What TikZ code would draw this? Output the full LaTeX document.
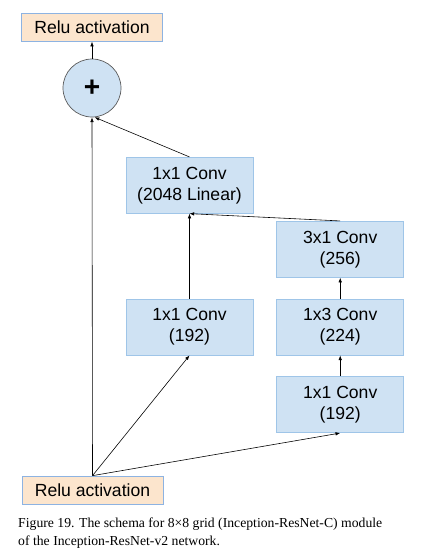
\documentclass[tikz,border=0pt]{standalone}
\usepackage{fontspec}
\setmainfont{Liberation Serif}
\setsansfont{Liberation Sans}
\usetikzlibrary{positioning, arrows.meta}
\definecolor{convblue}{HTML}{CFE2F3}
\definecolor{convedge}{HTML}{9FC5E8}
\definecolor{reluorange}{HTML}{FCE5CD}
\definecolor{reluedge}{HTML}{8DB3E2}
\definecolor{addedge}{HTML}{595959}

\begin{document}
\begin{tikzpicture}[
    x=0.03cm, y=-0.03cm,
    box/.style={draw=convedge, fill=convblue, rectangle, minimum width=3.81cm, minimum height=1.68cm, align=center, line width=0.6pt, font=\sffamily\fontsize{15}{18}\selectfont},
    relubox/.style={draw=reluedge, fill=reluorange, rectangle, minimum width=4.23cm, minimum height=0.84cm, line width=0.6pt, font=\sffamily\fontsize{15}{18}\selectfont},
    addnode/.style={draw=addedge, fill=convblue, circle, minimum size=1.74cm, line width=0.6pt, font=\sffamily\bfseries\fontsize{24}{24}\selectfont},
    arrow/.style={-{Latex[length=4pt,width=3pt]}, line width=0.5pt}
]
\useasboundingbox (0,0) rectangle (440,554);

\node[relubox] (reluin) at (92.5,490) {Relu activation};
\node[addnode] (add) at (92,88) {+};
\node[relubox] (reluout) [above=0.51cm of add] {Relu activation};

\node[box] (conv192a) at (189.5,327) {1x1 Conv\\(192)};
\node[box] (conv1x3) [right=0.69cm of conv192a] {1x3 Conv\\(224)};
\node[box] (conv192b) [below=0.63cm of conv1x3] {1x1 Conv\\(192)};
\node[box] (conv3x1) [above=0.63cm of conv1x3] {3x1 Conv\\(256)};
\node[box] (conv2048) [above=2.55cm of conv192a] {1x1 Conv\\(2048 Linear)};

\node[anchor=base west, inner sep=0, font=\fontsize{11.7}{15}\selectfont] (cap1) at (18,527) {Figure 19. The schema for 8×8 grid (Inception-ResNet-C) module};
\node[anchor=base west, inner sep=0, font=\fontsize{11.7}{15}\selectfont] (cap2) at (18,545) {of the Inception-ResNet-v2 network.};

\draw[arrow] (reluin.north) -- (add.south);
\draw[arrow] (reluin.north) -- (conv192a.south);
\draw[arrow] (reluin.north) -- (conv192b.south);
\draw[arrow] (conv192a) -- (conv2048);
\draw[arrow] (conv192b) -- (conv1x3);
\draw[arrow] (conv1x3) -- (conv3x1);
\draw[arrow] (conv3x1.north) -- (conv2048.south);
\draw[arrow] (conv2048.north) -- (add.-85);
\draw[arrow] (add) -- (reluout);

\end{tikzpicture}
\end{document}
